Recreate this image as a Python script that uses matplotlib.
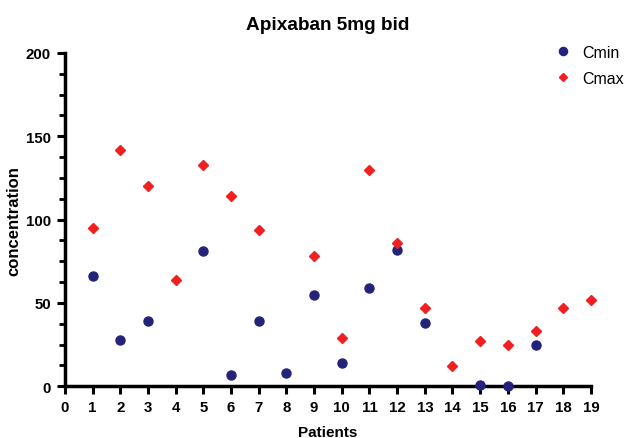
import numpy as np
import matplotlib
matplotlib.use("Agg")
import matplotlib.pyplot as plt
from matplotlib.ticker import MultipleLocator

plt.rcParams['font.family'] = ['Liberation Sans', 'DejaVu Sans']

patients = list(range(1, 20))
cmin = [66, 28, 39, np.nan, 81, 7, 39, 8, 55, 14, 59, 82, 38, np.nan, 1, 0, 25, np.nan, np.nan]
cmax = [95, 142, 120, 64, 133, 114, 94, np.nan, 78, 29, 130, 86, 47, 12, 27, 25, 33, 47, 52]
x_ticks = list(range(0, 20))
y_ticks = [0, 50, 100, 150, 200]

fig = plt.figure(figsize=(6.24, 4.39), dpi=100)
ax = fig.add_axes([0.104, 0.118, 0.843, 0.759])

ax.plot(patients, cmin, linestyle='none', marker='o', markersize=6.5,
        color='#23237a', label='Cmin', clip_on=False, zorder=3)
ax.plot(patients, cmax, linestyle='none', marker='D', markersize=5,
        color='#f02020', label='Cmax', clip_on=False, zorder=3)

ax.set_xlim(0, 19)
ax.set_ylim(0, 200)
ax.set_xticks(x_ticks)
ax.set_yticks(y_ticks)
ax.yaxis.set_minor_locator(MultipleLocator(12.5))

for s in ['top', 'right']:
    ax.spines[s].set_visible(False)
for s in ['left', 'bottom']:
    ax.spines[s].set_linewidth(2.5)

ax.tick_params(axis='both', which='major', width=2.2, length=6, labelsize=10.8, pad=4)
ax.tick_params(axis='y', which='minor', width=2, length=4)
for lab in ax.get_xticklabels() + ax.get_yticklabels():
    lab.set_fontweight('bold')

ax.set_xlabel('Patients', fontsize=11, fontweight='bold', labelpad=8)
ax.set_ylabel('concentration', fontsize=12, fontweight='bold', labelpad=3)
ax.set_title('Apixaban 5mg bid', fontsize=13.7, fontweight='bold', pad=17)

leg = ax.legend(loc='upper right', bbox_to_anchor=(1.09, 1.068), frameon=False,
                fontsize=11.5, handletextpad=0.6, labelspacing=0.7, handlelength=1.2,
                markerscale=0.9)

fig.savefig('out.png', dpi=100)
